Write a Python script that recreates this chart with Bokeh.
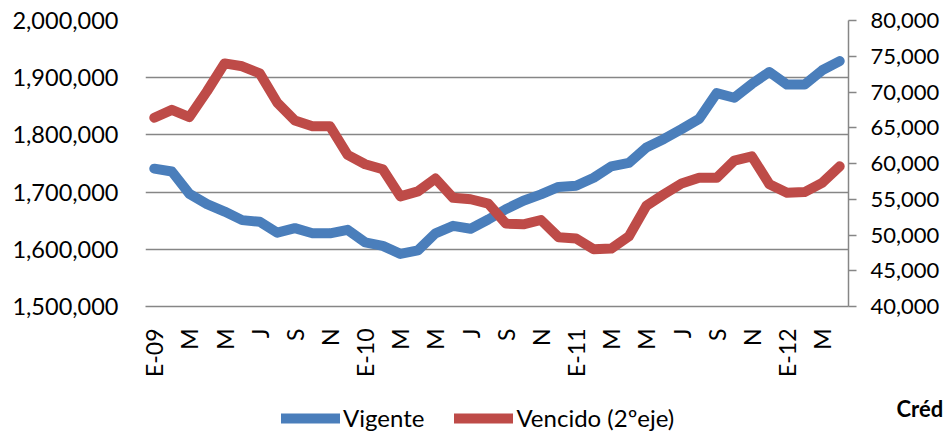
import math
from bokeh.plotting import figure
from bokeh.layouts import column
from bokeh.models import (Range1d, LinearAxis, FixedTicker, SingleIntervalTicker,
                          NumeralTickFormatter, Legend, LegendItem, Label, ColumnDataSource)
from bokeh.embed import file_html
from bokeh.resources import INLINE

# ---- data (Jan 2009 .. Apr 2012, monthly) ----
vigente = [1741000, 1736000, 1697000, 1679000, 1666000, 1651000, 1648000, 1629000,
           1637000, 1628000, 1628000, 1634000, 1612000, 1606000, 1592000, 1598000,
           1628000, 1641000, 1636000, 1652000, 1670000, 1685000, 1696000, 1709000,
           1711000, 1725000, 1745000, 1751000, 1778000, 1793000, 1810000, 1828000,
           1873000, 1865000, 1889000, 1910000, 1888000, 1888000, 1913000, 1929000]
vencido = [66400, 67500, 66500, 70100, 74000, 73600, 72600, 68500,
           66000, 65200, 65200, 61200, 59900, 59200, 55400, 56100,
           57900, 55200, 55000, 54400, 51600, 51500, 52100, 49700,
           49500, 48000, 48100, 49800, 54100, 55700, 57200, 58000,
           58000, 60400, 61000, 57100, 55900, 56000, 57300, 59600]
tick_positions = list(range(0, 40, 2))
tick_labels = ["E-09", "M", "M", "J", "S", "N", "E-10", "M", "M", "J",
               "S", "N", "E-11", "M", "M", "J", "S", "N", "E-12", "M"]
series_names = ["Vigente", "Vencido (2ºeje)"]
side_text = "Créd"

FONT = "Lato"
BLUE = "#4A7EBB"
RED = "#BE4B48"
GRID = "#868686"

x = list(range(len(vigente)))
src = ColumnDataSource(dict(x=x, vig=vigente, ven=vencido))

p = figure(width=946, height=380, output_backend="svg", toolbar_location=None,
           x_range=Range1d(-0.5, len(vigente) - 0.5),
           y_range=Range1d(1500000, 2000000),
           min_border_left=145, min_border_right=98, min_border_top=20,
           min_border_bottom=68)
p.extra_y_ranges = {"right": Range1d(40000, 80000)}
p.outline_line_color = None
p.background_fill_color = "white"
p.border_fill_color = "white"

# left axis
ya = p.yaxis[0]
ya.ticker = SingleIntervalTicker(interval=100000)
ya.formatter = NumeralTickFormatter(format="0,0")
ya.axis_line_color = None
ya.major_tick_line_color = None
ya.minor_tick_line_color = None
ya.major_label_standoff = 21
ya.major_label_text_font = FONT
ya.major_label_text_font_size = "23.5px"
ya.major_label_text_color = "#000000"

# right axis
ra = LinearAxis(y_range_name="right", ticker=SingleIntervalTicker(interval=5000),
                formatter=NumeralTickFormatter(format="0,0"))
ra.axis_line_color = GRID
ra.axis_line_width = 1.5
ra.major_tick_line_color = GRID
ra.major_tick_line_width = 1.5
ra.major_tick_out = 8
ra.major_tick_in = 0
ra.minor_tick_line_color = None
ra.major_label_standoff = 14
ra.major_label_text_font = FONT
ra.major_label_text_font_size = "22px"
ra.major_label_text_color = "#000000"
p.add_layout(ra, "right")

# x axis
xa = p.xaxis[0]
xa.ticker = FixedTicker(ticks=tick_positions)
xa.major_label_overrides = {pos: lab for pos, lab in zip(tick_positions, tick_labels)}
xa.major_label_orientation = math.pi / 2
xa.axis_line_color = GRID
xa.axis_line_width = 1.5
xa.major_tick_line_color = None
xa.minor_tick_line_color = None
xa.major_label_standoff = 16
xa.major_label_text_font = FONT
xa.major_label_text_font_size = "23px"
xa.major_label_text_color = "#000000"

p.xgrid.grid_line_color = None
p.ygrid.grid_line_color = GRID
p.ygrid.grid_line_width = 1.5
p.ygrid.ticker = SingleIntervalTicker(interval=100000)

p.line("x", "vig", source=src, line_color=BLUE, line_width=10,
       line_join="round", line_cap="round")
p.line("x", "ven", source=src, line_color=RED, line_width=10,
       line_join="round", line_cap="round", y_range_name="right")

# ---- legend strip below the chart (frame aligned with the chart's frame) ----
leg = figure(width=946, height=52, output_backend="svg", toolbar_location=None,
             x_range=Range1d(0, 1), y_range=Range1d(0, 1),
             x_axis_location=None, y_axis_location=None,
             min_border_left=145, min_border_right=98,
             min_border_top=0, min_border_bottom=0)
leg.outline_line_color = None
leg.grid.grid_line_color = None
leg.background_fill_color = "white"
leg.border_fill_color = "white"
# hidden renderers that only supply the legend swatches
l1 = leg.line("x", "vig", source=src, line_color=BLUE, line_width=10,
              line_cap="round", visible=False)
l2 = leg.line("x", "ven", source=src, line_color=RED, line_width=10,
              line_cap="round", visible=False)

legend = Legend(items=[LegendItem(label=series_names[0], renderers=[l1]),
                       LegendItem(label=series_names[1], renderers=[l2])],
                orientation="horizontal", location=(136, 0), click_policy="none",
                glyph_width=59, glyph_height=24, label_standoff=3, spacing=30,
                padding=0, margin=0,
                label_text_font=FONT, label_text_font_size="24px",
                label_text_color="#000000",
                border_line_color=None, background_fill_alpha=0)
leg.add_layout(legend, "center")

# side panel annotation (side panels are not clipped to the frame)
leg.add_layout(Label(x=48, y=24, x_units="screen", y_units="screen", text=side_text,
                     text_font=FONT, text_font_size="22px", text_font_style="bold",
                     text_baseline="middle", text_color="#000000"), "right")

layout = column(p, leg, spacing=0)
open("out.html", "w").write(file_html(layout, INLINE))
